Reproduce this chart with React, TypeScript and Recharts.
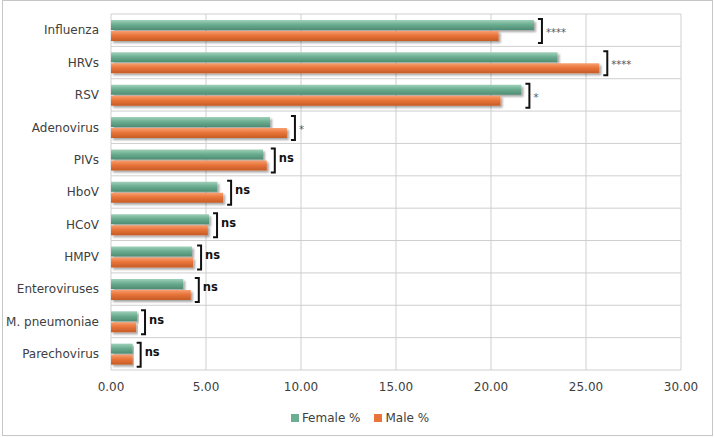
import { BarChart, Bar, XAxis, YAxis, CartesianGrid, LabelList } from "recharts";

const viruses = [
  "Influenza",
  "HRVs",
  "RSV",
  "Adenovirus",
  "PIVs",
  "HboV",
  "HCoV",
  "HMPV",
  "Enteroviruses",
  "M. pneumoniae",
  "Parechovirus",
];
const femalePct = [22.26, 23.5, 21.6, 8.37, 8.0, 5.6, 5.16, 4.26, 3.8, 1.37, 1.14];
const malePct = [20.4, 25.7, 20.5, 9.26, 8.2, 5.9, 5.1, 4.32, 4.2, 1.32, 1.14];
const significance = ["****", "****", "*", "*", "ns", "ns", "ns", "ns", "ns", "ns", "ns"];
const xTicks = [0, 5, 10, 15, 20, 25, 30];

const data = viruses.map((name, i) => ({
  name,
  female: femalePct[i],
  male: malePct[i],
  sig: significance[i],
}));

const FONT = "'DejaVu Sans', sans-serif";
const TEXT = "#404040";

/* bracket + significance mark, drawn off the female bar geometry */
function SigLabel(props: any) {
  const { x, y, width, height, index } = props;
  const row = data[index];
  if (!row) return null;
  const pxPerUnit = width / row.female;
  const end = x + Math.max(row.female, row.male) * pxPerUnit + 8;
  const top = y - 1;
  const bottom = y + height * 2 + 3;
  const mid = (top + bottom) / 2;
  const isNs = row.sig === "ns";
  return (
    <g>
      <path
        d={`M${end - 4},${top} H${end} V${bottom} H${end - 4}`}
        fill="none"
        stroke="#111"
        strokeWidth={2}
      />
      <text
        x={end + 4}
        y={isNs ? mid - 2 : mid + 2}
        fontFamily={FONT}
        fontSize={isNs ? 11.5 : 10}
        fontWeight={isNs ? "bold" : "normal"}
        fill={isNs ? "#111" : "#555"}
        dominantBaseline="middle"
      >
        {row.sig}
      </text>
    </g>
  );
}

// row boundaries for the category axis (Excel draws grid between categories)
const rowLines = ({ offset }: any) =>
  Array.from({ length: viruses.length + 1 }, (_, i) => offset.top + (i * offset.height) / viruses.length);

export default function App() {
  return (
    <div style={{ position: "absolute", left: 0, top: 0, width: 714, height: 437, background: "#fff" }}>
      <div
        style={{
          position: "absolute",
          left: 2,
          top: 0,
          width: 709,
          height: 434,
          border: "1px solid #c6c6c6",
        }}
      />
      <BarChart
        width={714}
        height={437}
        data={data}
        layout="vertical"
        margin={{ top: 14, right: 33, bottom: 37, left: 0 }}
        barSize={10}
        barGap={1}
        style={{ position: "absolute", left: 0, top: 0 }}
      >
        <defs>
          <linearGradient id="gFemale" x1="0" y1="0" x2="0" y2="1">
            <stop offset="0%" stopColor="#9fd0b9" />
            <stop offset="45%" stopColor="#6cae91" />
            <stop offset="100%" stopColor="#4e8c72" />
          </linearGradient>
          <linearGradient id="gMale" x1="0" y1="0" x2="0" y2="1">
            <stop offset="0%" stopColor="#f7a070" />
            <stop offset="45%" stopColor="#e9743a" />
            <stop offset="100%" stopColor="#c65c26" />
          </linearGradient>
          <filter id="shadow" x="-5%" y="-30%" width="110%" height="180%">
            <feDropShadow dx={2} dy={2} stdDeviation={1.2} floodColor="#000" floodOpacity={0.35} />
          </filter>
        </defs>
        <CartesianGrid stroke="#cfcfcf" strokeWidth={1} horizontalCoordinatesGenerator={rowLines} />
        <XAxis
          type="number"
          domain={[0, 30]}
          ticks={xTicks}
          tickFormatter={(v: number) => v.toFixed(2)}
          axisLine={false}
          tickLine={false}
          tickSize={0}
          tickMargin={12}
          height={30}
          tick={{ fill: TEXT, fontSize: 12, fontFamily: FONT }}
        />
        <YAxis
          type="category"
          dataKey="name"
          width={111}
          axisLine={false}
          tickLine={false}
          tickSize={0}
          tickMargin={12}
          tick={{ fill: TEXT, fontSize: 12, fontFamily: FONT }}
        />
        <Bar dataKey="female" name="Female %" fill="url(#gFemale)" filter="url(#shadow)" isAnimationActive={false}>
          <LabelList dataKey="female" content={SigLabel} />
        </Bar>
        <Bar dataKey="male" name="Male %" fill="url(#gMale)" filter="url(#shadow)" isAnimationActive={false} />
      </BarChart>
      <div
        style={{
          position: "absolute",
          top: 411,
          left: 0,
          width: 714,
          display: "flex",
          justifyContent: "center",
          gap: 14,
          fontFamily: FONT,
          fontSize: 12,
          color: TEXT,
        }}
      >
        <span style={{ display: "flex", alignItems: "center", gap: 3, marginLeft: 6 }}>
          <span style={{ width: 8, height: 8, background: "#6cae91", display: "inline-block" }} />
          Female %
        </span>
        <span style={{ display: "flex", alignItems: "center", gap: 3 }}>
          <span style={{ width: 8, height: 8, background: "#e9743a", display: "inline-block" }} />
          Male %
        </span>
      </div>
    </div>
  );
}
